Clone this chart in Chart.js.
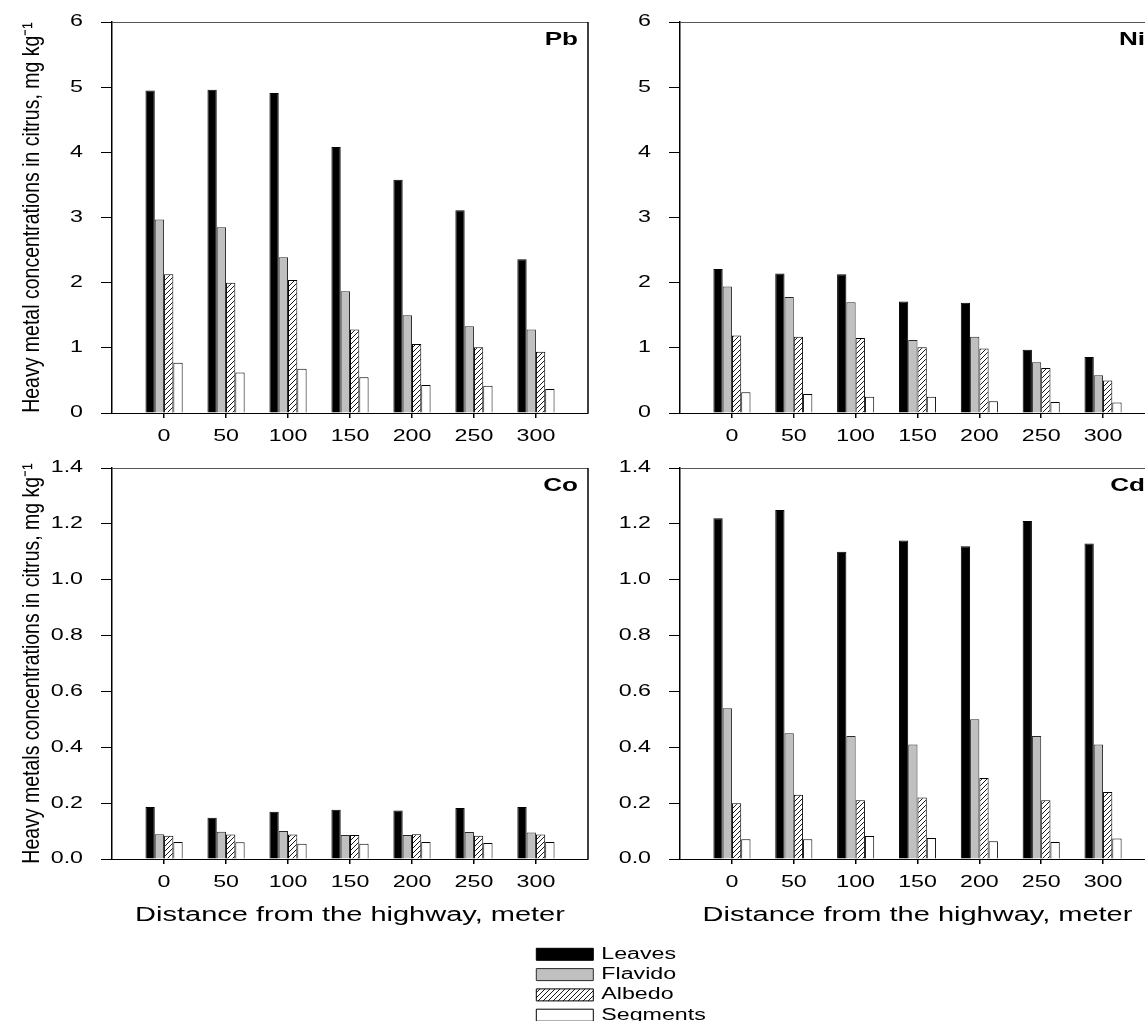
<!DOCTYPE html>
<html>
<head>
<meta charset="utf-8">
<script src="https://cdn.jsdelivr.net/npm/chart.js@4.4.1/dist/chart.umd.min.js"></script>
<style>
  html, body { margin: 0; padding: 0; background: #fff; width: 1145px; height: 1021px; overflow: hidden; }
  canvas { position: absolute; }
</style>
</head>
<body>
<canvas id="pb" width="600" height="452" style="left:0;top:0"></canvas>
<canvas id="ni" width="570" height="452" style="left:600px;top:0"></canvas>
<canvas id="co" width="600" height="494" style="left:0;top:446px"></canvas>
<canvas id="cd" width="570" height="494" style="left:600px;top:446px"></canvas>
<canvas id="key" width="300" height="110" style="left:532px;top:942px"></canvas>
<script>
// Distance from the highway (m) and the plant parts sampled
const distances = [0, 50, 100, 150, 200, 250, 300];
const parts = ['Leaves', 'Flavido', 'Albedo', 'Segments'];

// Tick values of the two y ranges
const majorTicks = [0, 1, 2, 3, 4, 5, 6];
const minorTicks = [0, 0.2, 0.4, 0.6, 0.8, 1.0, 1.2, 1.4];

// Lead, mg/kg
const pbLeaves   = [4.95, 4.96, 4.91, 4.08, 3.58, 3.11, 2.36];
const pbFlavido  = [2.97, 2.85, 2.39, 1.87, 1.50, 1.33, 1.28];
const pbAlbedo   = [2.13, 2.00, 2.04, 1.28, 1.06, 1.01, 0.94];
const pbSegments = [0.77, 0.62, 0.68, 0.55, 0.43, 0.42, 0.37];

// Nickel, mg/kg
const niLeaves   = [2.21, 2.14, 2.13, 1.71, 1.69, 0.97, 0.86];
const niFlavido  = [1.94, 1.78, 1.70, 1.12, 1.17, 0.78, 0.58];
const niAlbedo   = [1.19, 1.17, 1.15, 1.01, 0.99, 0.69, 0.50];
const niSegments = [0.32, 0.29, 0.25, 0.25, 0.18, 0.17, 0.16];

// Cobalt, mg/kg
const coLeaves   = [0.186, 0.148, 0.169, 0.176, 0.174, 0.183, 0.186];
const coFlavido  = [0.089, 0.098, 0.100, 0.086, 0.086, 0.097, 0.095];
const coAlbedo   = [0.083, 0.088, 0.088, 0.086, 0.089, 0.083, 0.088];
const coSegments = [0.061, 0.060, 0.055, 0.055, 0.061, 0.057, 0.061];

// Cadmium, mg/kg
const cdLeaves   = [1.22, 1.25, 1.10, 1.14, 1.12, 1.21, 1.13];
const cdFlavido  = [0.54, 0.45, 0.44, 0.41, 0.50, 0.44, 0.41];
const cdAlbedo   = [0.20, 0.23, 0.21, 0.22, 0.29, 0.21, 0.24];
const cdSegments = [0.071, 0.071, 0.082, 0.075, 0.064, 0.061, 0.073];

Chart.defaults.font.family = '"Liberation Sans", Arial, Helvetica, sans-serif';
Chart.defaults.color = '#000';

// Diagonal hatch used for the albedo bars
function makeHatch() {
  const c = document.createElement('canvas');
  c.width = 5; c.height = 5;
  const g = c.getContext('2d');
  g.fillStyle = '#fff';
  g.fillRect(0, 0, 5, 5);
  g.strokeStyle = '#000';
  g.lineWidth = 0.9;
  g.beginPath();
  g.moveTo(0, 5); g.lineTo(5, 0);
  g.moveTo(-1, 1); g.lineTo(1, -1);
  g.moveTo(4, 6); g.lineTo(6, 4);
  g.stroke();
  return g.createPattern(c, 'repeat');
}
const hatch = makeHatch();
const fills = ['#000000', '#c0c0c0', hatch, '#ffffff'];
const edges = ['#000000', '#2a2a2a', '#000000', '#000000'];

// The figure's lettering is set wide: glyphs are stretched horizontally
// around their anchor point (less so for the rotated axis titles), and
// text measurement reports the widened size so boxes fit the labels.
const WIDE = 1.45;
const WIDE_ROTATED = 1.2;
const wideGlyphs = {
  id: 'wideGlyphs',
  beforeInit(chart) {
    const ctx = chart.ctx;
    if (ctx.__plainFillText) return;
    const plainFill = ctx.fillText;
    const plainMeasure = ctx.measureText;
    ctx.__plainFillText = plainFill;
    ctx.fillText = function (text, x, y, maxWidth) {
      const m = this.getTransform();
      const sx = Math.abs(m.b) > 0.01 ? WIDE_ROTATED : WIDE;
      const p = m.transformPoint(new DOMPoint(x, y));
      this.save();
      this.setTransform(new DOMMatrix().translate(p.x, p.y).scale(sx, 1).translate(-p.x, -p.y).multiply(m));
      if (maxWidth === undefined) plainFill.call(this, text, x, y);
      else plainFill.call(this, text, x, y, maxWidth / sx);
      this.restore();
    };
    ctx.measureText = function (text) {
      const tm = plainMeasure.call(this, text);
      return {
        width: tm.width * WIDE,
        actualBoundingBoxAscent: tm.actualBoundingBoxAscent,
        actualBoundingBoxDescent: tm.actualBoundingBoxDescent,
        actualBoundingBoxLeft: tm.actualBoundingBoxLeft * WIDE,
        actualBoundingBoxRight: tm.actualBoundingBoxRight * WIDE
      };
    };
  }
};

// Metal symbol in the upper right corner and the closing top/right frame
const panelFrame = {
  id: 'panelFrame',
  afterDraw(chart, args, opts) {
    const { ctx, chartArea: a } = chart;
    ctx.save();
    ctx.strokeStyle = '#555';
    ctx.lineWidth = 1;
    ctx.beginPath();
    ctx.moveTo(a.left, a.top + 0.5);
    ctx.lineTo(a.right, a.top + 0.5);
    ctx.stroke();
    ctx.strokeStyle = '#000';
    ctx.lineWidth = 1.5;
    ctx.beginPath();
    ctx.moveTo(a.right, a.top);
    ctx.lineTo(a.right, a.bottom);
    ctx.stroke();
    ctx.font = 'bold 18px "Liberation Sans", Arial, sans-serif';
    ctx.fillStyle = '#000';
    ctx.textAlign = 'right';
    ctx.textBaseline = 'middle';
    ctx.fillText(opts.text, a.right - 10, a.top + 18);
    ctx.restore();
  }
};

function drawPanel(id, symbol, series, ticks, yMax, cfg) {
  const datasets = parts.map((name, k) => ({
    label: name,
    data: distances.map((d, i) => ({ x: d, y: series[k][i] })),
    backgroundColor: fills[k],
    borderColor: edges[k],
    borderWidth: 1,
    borderSkipped: 'start',
    categoryPercentage: 0.6,
    barPercentage: 1.0
  }));
  const fmt = yMax > 2 ? (v => String(v)) : (v => Number(v).toFixed(1));
  return new Chart(document.getElementById(id), {
    type: 'bar',
    data: { datasets },
    options: {
      responsive: false,
      animation: false,
      events: [],
      layout: { autoPadding: false, padding: { top: 22, left: 0, right: cfg.right, bottom: 0 } },
      scales: {
        x: {
          type: 'linear',
          min: -42,
          max: 342,
          offset: false,
          afterBuildTicks: s => { s.ticks = distances.map(v => ({ value: v })); },
          afterFit: s => { s.height = cfg.xh; s.paddingLeft = 0; s.paddingRight = 0; },
          ticks: { font: { size: 16 }, color: '#000', padding: 9, maxRotation: 0, autoSkip: false, callback: v => String(v) },
          grid: { offset: false, drawOnChartArea: false, drawTicks: true, tickLength: 5, lineWidth: 1.5, tickWidth: 1.5, tickColor: '#000' },
          border: { display: true, color: '#000', width: 1 },
          title: cfg.xTitle
            ? { display: true, text: cfg.xTitle, font: { size: 20 }, color: '#000', padding: { top: 0, bottom: 13 } }
            : { display: false }
        },
        y: {
          min: 0,
          max: yMax,
          afterBuildTicks: s => { s.ticks = ticks.map(v => ({ value: v })); },
          afterFit: s => { s.width = cfg.yw; s.paddingTop = 0; s.paddingBottom = 0; },
          ticks: { font: { size: 16 }, color: '#000', padding: 18, callback: fmt },
          grid: { drawOnChartArea: false, drawTicks: true, tickLength: 11, lineWidth: 1, tickColor: '#000' },
          border: { display: true, color: '#000', width: 1.5 },
          title: cfg.yTitle
            ? { display: true, text: cfg.yTitle, font: { size: 19.5 }, color: '#000', padding: { top: 20.5, bottom: 0 } }
            : { display: false }
        }
      },
      plugins: {
        legend: { display: false },
        tooltip: { enabled: false },
        panelFrame: { text: symbol }
      }
    },
    plugins: [wideGlyphs, panelFrame]
  });
}

const xTitle = 'Distance from the highway, meter';

drawPanel('pb', 'Pb', [pbLeaves, pbFlavido, pbAlbedo, pbSegments], majorTicks, 6,
  { right: 12, yw: 112, xh: 39, yTitle: 'Heavy metal concentrations in citrus, mg kg\u207B\u00B9' });
drawPanel('ni', 'Ni', [niLeaves, niFlavido, niAlbedo, niSegments], majorTicks, 6,
  { right: 15, yw: 80, xh: 39 });
drawPanel('co', 'Co', [coLeaves, coFlavido, coAlbedo, coSegments], minorTicks, 1.4,
  { right: 12, yw: 112, xh: 81, xTitle, yTitle: 'Heavy metals concentrations in citrus, mg kg\u207B\u00B9' });
drawPanel('cd', 'Cd', [cdLeaves, cdFlavido, cdAlbedo, cdSegments], minorTicks, 1.4,
  { right: 15, yw: 80, xh: 81, xTitle });

// Shared key below the panels
new Chart(document.getElementById('key'), {
  type: 'bar',
  data: {
    labels: [],
    datasets: parts.map((name, k) => ({
      label: name, data: [], backgroundColor: fills[k], borderColor: edges[k], borderWidth: 1
    }))
  },
  options: {
    responsive: false,
    animation: false,
    events: [],
    layout: { autoPadding: false, padding: 0 },
    scales: { x: { display: false }, y: { display: false } },
    plugins: {
      tooltip: { enabled: false },
      legend: {
        position: 'left',
        align: 'start',
        maxWidth: 290,
        labels: { boxWidth: 57, boxHeight: 12, padding: 4.3, font: { size: 16 }, color: '#000' }
      }
    }
  },
  plugins: [wideGlyphs]
});
</script>
</body>
</html>
